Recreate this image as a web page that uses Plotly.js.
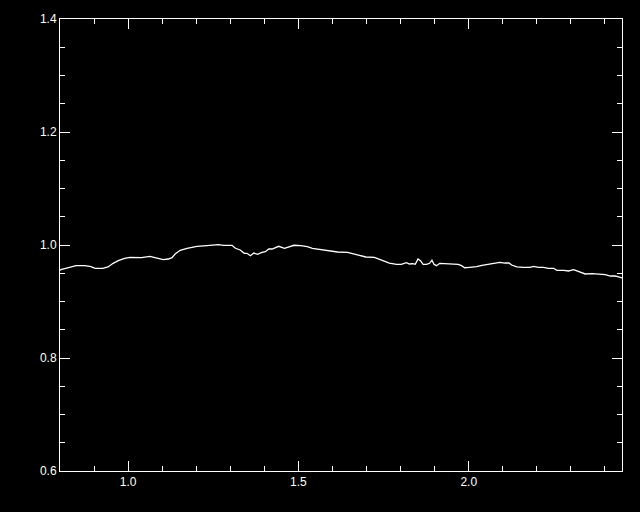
<!DOCTYPE html>
<html>
<head>
<meta charset="utf-8">
<script src="https://cdn.plot.ly/plotly-3.0.1.min.js"></script>
<style>html,body{margin:0;padding:0;background:#000;}#chart{width:640px;height:512px;}</style>
</head>
<body>
<div id="chart"></div>
<script>
const xValues = [0.800,0.802,0.814,0.833,0.847,0.873,0.891,0.903,0.926,0.941,0.956,0.971,0.990,1.005,1.039,1.064,1.083,1.103,1.118,1.129,1.138,1.153,1.173,1.202,1.231,1.266,1.280,1.305,1.315,1.329,1.341,1.349,1.359,1.369,1.380,1.393,1.403,1.413,1.423,1.432,1.442,1.459,1.473,1.487,1.507,1.526,1.541,1.556,1.571,1.590,1.615,1.644,1.664,1.683,1.698,1.723,1.737,1.752,1.767,1.788,1.802,1.817,1.826,1.836,1.843,1.851,1.859,1.866,1.876,1.885,1.892,1.898,1.905,1.915,1.929,1.949,1.969,1.979,1.988,2.003,2.023,2.039,2.057,2.076,2.091,2.106,2.118,2.126,2.141,2.161,2.180,2.190,2.205,2.220,2.234,2.249,2.259,2.279,2.293,2.308,2.323,2.342,2.362,2.381,2.401,2.416,2.430,2.440,2.450];
const yValues = [0.955,0.9563,0.9581,0.9611,0.9634,0.9634,0.9616,0.9588,0.9588,0.9611,0.9676,0.9722,0.9765,0.9782,0.9775,0.9800,0.9765,0.9740,0.9752,0.9775,0.9841,0.9906,0.9942,0.9977,0.9988,1.0005,0.9995,0.9995,0.9942,0.9912,0.9853,0.9853,0.9811,0.9858,0.9835,0.9871,0.9881,0.9929,0.9929,0.9952,0.9977,0.9942,0.9970,0.9995,0.9988,0.9970,0.9942,0.9929,0.9912,0.9888,0.9876,0.9871,0.9841,0.9811,0.9788,0.9782,0.9747,0.9717,0.9681,0.9658,0.9658,0.9687,0.9664,0.9669,0.9658,0.9752,0.9717,0.9658,0.9658,0.9676,0.9729,0.9658,0.9634,0.9676,0.9669,0.9669,0.9658,0.9634,0.9598,0.9605,0.9616,0.9641,0.9658,0.9669,0.9694,0.9681,0.9681,0.9646,0.9611,0.9605,0.9605,0.9623,0.9605,0.9605,0.9588,0.9588,0.9552,0.9552,0.9540,0.9563,0.9527,0.9487,0.9492,0.9481,0.9474,0.9451,0.9451,0.9434,0.9416];
const xTickLabelFormat = '.1f';
const yTickLabelFormat = '.1f';

const trace = {
  x: xValues, y: yValues, type: 'scatter', mode: 'lines',
  line: {color: '#ffffff', width: 1.3}, hoverinfo: 'skip'
};
const axisCommon = {
  showgrid: false, zeroline: false, showline: true, linecolor: '#ffffff', linewidth: 1,
  mirror: 'allticks', ticks: 'inside', tickcolor: '#ffffff', tickwidth: 1, ticklen: 10,
  tickfont: {family: 'Liberation Sans, Arial, sans-serif', size: 12, color: '#ffffff'}
};
const layout = {
  width: 640, height: 512,
  paper_bgcolor: '#000000', plot_bgcolor: '#000000',
  margin: {l: 60, r: 18, t: 19, b: 41},
  showlegend: false,
  xaxis: Object.assign({}, axisCommon, {
    range: [0.8, 2.45], dtick: 0.5, tick0: 0, tickformat: xTickLabelFormat,
    minor: {dtick: 0.1, ticklen: 5, tickcolor: '#ffffff', tickwidth: 1, ticks: 'inside'}
  }),
  yaxis: Object.assign({}, axisCommon, {
    range: [0.6, 1.4], dtick: 0.2, tick0: 0, tickformat: yTickLabelFormat,
    minor: {dtick: 0.05, ticklen: 5, tickcolor: '#ffffff', tickwidth: 1, ticks: 'inside'}
  })
};
Plotly.newPlot('chart', [trace], layout, {displayModeBar: false, staticPlot: true});
</script>
</body>
</html>
